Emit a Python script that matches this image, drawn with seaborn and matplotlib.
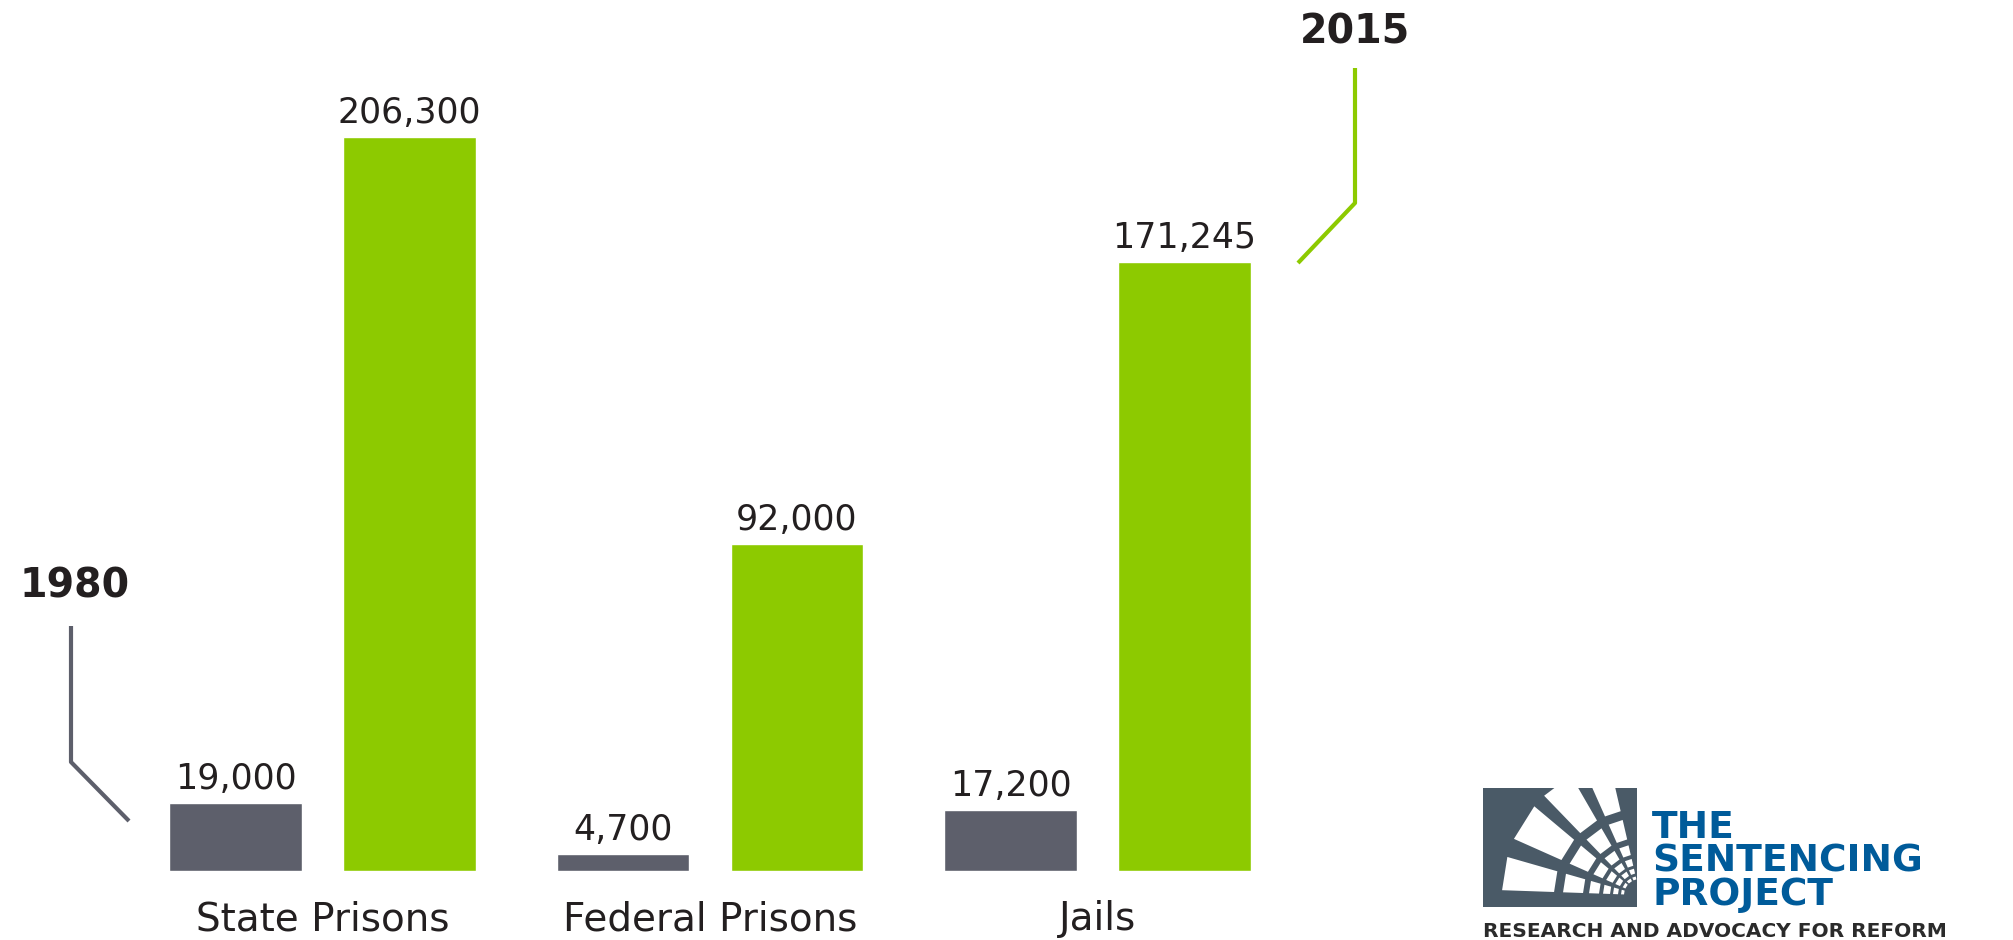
import matplotlib
matplotlib.use("Agg")
import matplotlib.pyplot as plt
import numpy as np
import pandas as pd
import seaborn as sns
from matplotlib.patches import Rectangle, Polygon

# data
facilities = ["State Prisons", "Federal Prisons", "Jails"]
years = ["1980", "2015"]
count_1980 = [19000, 4700, 17200]
count_2015 = [206300, 92000, 171245]

df = pd.DataFrame({
    "facility": facilities * 2,
    "year": [years[0]] * 3 + [years[1]] * 3,
    "count": count_1980 + count_2015,
})

GRAY = "#5d5f6b"
GREEN = "#8dca00"
DARK = "#231f20"
LOGO_GRAY = "#4a5a67"
LOGO_BLUE = "#005b9a"

sns.set_style("white")
plt.rcParams["font.family"] = ["DejaVu Sans"]

W, H = 2013, 940
fig = plt.figure(figsize=(W / 100, H / 100), dpi=100)

# bar axes: baseline sits 69 px above the bottom edge
base_px = 69
ax = fig.add_axes([0, base_px / H, 1, 1 - base_px / H])
sns.barplot(data=df, x="facility", y="count", hue="year", order=facilities,
            hue_order=years, palette=[GRAY, GREEN], saturation=1,
            width=0.898, gap=0.236, legend=False, ax=ax)

# map categories / values onto the pixel layout of the original
group_px, first_px = 387.5, 322.5
ax.set_xlim(-first_px / group_px, (W - first_px) / group_px)
y_per_px = max(count_2015) / 734
ax.set_ylim(0, (H - base_px) * y_per_px)

for cont in ax.containers:
    ax.bar_label(cont, fmt="{:,.0f}", padding=5, fontsize=25, color=DARK)

ax.set_xlabel("")
ax.set_ylabel("")
ax.set_yticks([])
ax.tick_params(axis="x", length=0, pad=21, labelsize=28, labelcolor=DARK)
sns.despine(ax=ax, left=True, bottom=True)

# overlay in pixel coordinates for callouts and logo
ov = fig.add_axes([0, 0, 1, 1], zorder=3)
ov.set_xlim(0, W)
ov.set_ylim(H, 0)
ov.axis("off")
ov.patch.set_alpha(0)

ov.plot([71, 71, 129], [626, 762, 821], color=GRAY, lw=3, solid_capstyle="butt")
ov.text(75, 597, years[0], ha="center", va="baseline", fontsize=28.5,
        fontweight="bold", color=DARK)
ov.plot([1355, 1355, 1298], [68, 203, 263], color=GREEN, lw=3, solid_capstyle="butt")
ov.text(1355, 43, years[1], ha="center", va="baseline", fontsize=28.5,
        fontweight="bold", color=DARK)

# logo emblem: dark square with a fan of white cells
sq = Rectangle((1483, 788), 154, 119, facecolor=LOGO_GRAY, edgecolor="none")
ov.add_patch(sq)
vx, vy = 1640, 895
bands = [(2, 16), (24, 40), (46, 60), (66, 77)]
rings = [(86, 138), (57, 77), (41, 51), (30, 37), (22, 27), (16, 19)]
for a0, a1 in bands:
    for r0, r1 in rings:
        pts = []
        for r, a in [(r0, a0), (r1, a0), (r1, a1), (r0, a1)]:
            t = np.radians(a)
            pts.append((vx - r * np.cos(t), vy - r * np.sin(t)))
        cell = Polygon(pts, closed=True, facecolor="white", edgecolor="none")
        ov.add_patch(cell)
        cell.set_clip_path(sq)

for label, yb in [("THE", 838), ("SENTENCING", 872), ("PROJECT", 905)]:
    ov.text(1652, yb, label, ha="left", va="baseline", fontsize=27,
            fontweight="bold", color=LOGO_BLUE)
ov.text(1483, 937, "RESEARCH AND ADVOCACY FOR REFORM", ha="left",
        va="baseline", fontsize=14.5, fontweight="bold", color="#2b2b2b")

fig.savefig("out.png", dpi=100)
